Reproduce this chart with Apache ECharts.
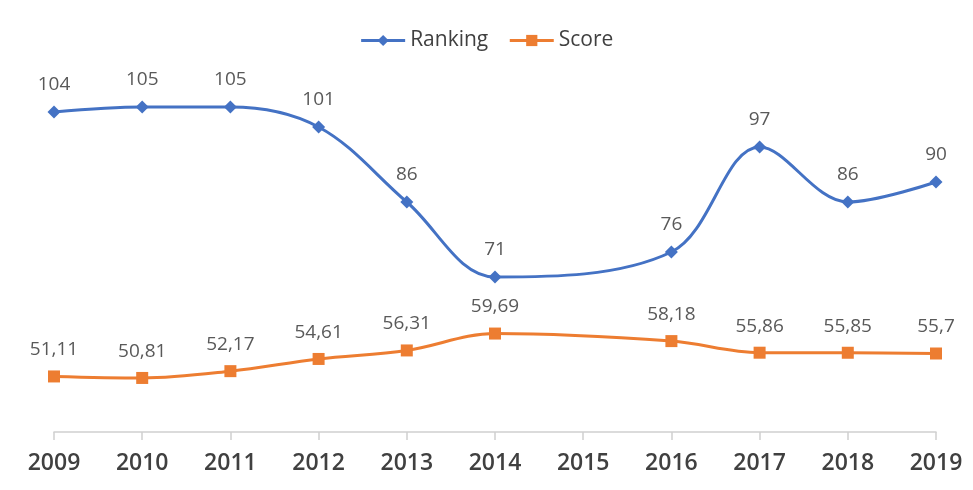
<!DOCTYPE html>
<html>
<head>
<meta charset="utf-8">
<script src="https://cdn.jsdelivr.net/npm/echarts@6/dist/echarts.min.js"></script>
<style>
  html, body { margin: 0; padding: 0; background: #fff; }
  #chart { width: 973px; height: 490px; }
</style>
</head>
<body>
<div id="chart"></div>
<script>
var years = ['2009', '2010', '2011', '2012', '2013', '2014', '2015', '2016', '2017', '2018', '2019'];
var ranking = [104, 105, 105, 101, 86, 71, null, 76, 97, 86, 90];
var score = [51.11, 50.81, 52.17, 54.61, 56.31, 59.69, null, 58.18, 55.86, 55.85, 55.7];

var chart = echarts.init(document.getElementById('chart'));

function commaLabel(p) {
  return String(p.value).replace('.', ',');
}

var option = {
  animation: false,
  textStyle: { fontFamily: '"Open Sans", "Noto Sans", sans-serif' },
  legend: {
    top: 25,
    left: 'center',
    itemWidth: 44,
    itemHeight: 14,
    itemGap: 20,
    lineStyle: { width: 3 },
    textStyle: { fontSize: 21, color: '#404040' },
    data: ['Ranking', 'Score']
  },
  grid: { left: 54, right: 37, top: 32, bottom: 58 },
  xAxis: {
    type: 'category',
    data: years,
    boundaryGap: false,
    axisLine: { lineStyle: { color: '#d0d0d0', width: 1.5 } },
    axisTick: { show: true, length: 8, lineStyle: { color: '#d0d0d0', width: 1.5 } },
    axisLabel: { fontSize: 23, fontWeight: 600, color: '#404040', margin: 20 }
  },
  yAxis: {
    type: 'value',
    min: 40,
    max: 120,
    show: false,
    splitLine: { show: false }
  },
  series: [
    {
      name: 'Ranking',
      type: 'line',
      data: ranking,
      smooth: 0.35,
      connectNulls: true,
      symbol: 'diamond',
      symbolSize: 13,
      color: '#4472C4',
      lineStyle: { width: 3 },
      label: { show: true, position: 'top', distance: 11, fontSize: 19, color: '#595959' }
    },
    {
      name: 'Score',
      type: 'line',
      data: score,
      smooth: 0.35,
      connectNulls: true,
      symbol: 'rect',
      symbolSize: 12,
      color: '#ED7D31',
      lineStyle: { width: 3 },
      label: { show: true, position: 'top', distance: 11, fontSize: 19, color: '#595959', formatter: commaLabel }
    }
  ]
};

chart.setOption(option);
</script>
</body>
</html>
